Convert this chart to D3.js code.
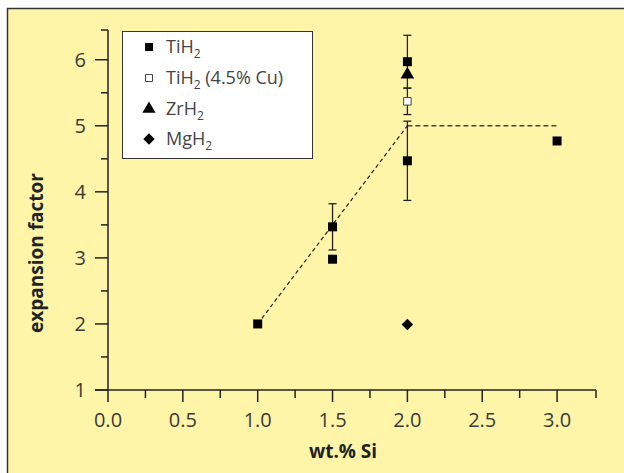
<!DOCTYPE html>
<html>
<head>
<meta charset="utf-8">
<script src="https://cdn.jsdelivr.net/npm/d3@7"></script>
<style>
  body { margin: 0; background: #fff; }
  svg { display: block; }
  text { font-family: "Open Sans", "Noto Sans", sans-serif; }
</style>
</head>
<body>
<svg id="chart"></svg>
<script>
// data
const tih2 = [
  {x: 1.0, y: 2.0},
  {x: 1.5, y: 3.47, err: 0.35},
  {x: 1.5, y: 2.98},
  {x: 2.0, y: 5.97, err: 0.4},
  {x: 2.0, y: 4.47, err: 0.6},
  {x: 3.0, y: 4.77}
]
const tih2Cu = [{x: 2.0, y: 5.37, err: 0.2}]
const zrh2 = [{x: 2.0, y: 5.79}]
const mgh2 = [{x: 2.0, y: 1.99}]
const trendLine = [{x: 1.0, y: 2.0}, {x: 2.0, y: 5.0}]
const plateauLine = [{x: 2.0, y: 5.0}, {x: 3.0, y: 5.0}]
const xTicks = [0, 0.5, 1, 1.5, 2, 2.5, 3]
const yTicks = [1, 2, 3, 4, 5, 6]
const legendNames = ['TiH', 'TiH', 'ZrH', 'MgH']
const legendExtra = ['', ' (4.5% Cu)', '', '']

const W = 624, H = 473
const svg = d3.select('#chart').attr('width', W).attr('height', H)

svg.append('rect').attr('x', 7).attr('y', 8).attr('width', W - 7).attr('height', H - 8)
  .attr('fill', '#fff5a8')
svg.append('path').attr('d', `M7.5,${H}V8.5H${W}`).attr('fill', 'none')
  .attr('stroke', '#333').attr('stroke-width', 1.5)

const x = d3.scaleLinear().domain([0, 3.26]).range([108, 596])
const y = d3.scaleLinear().domain([1, 6.45]).range([390, 30])
const ink = '#222'
const txt = '#3a3a3a'

// x axis
const gx = svg.append('g').attr('transform', 'translate(0,390)')
gx.append('line').attr('x1', 95).attr('x2', x(3.26)).attr('stroke', ink).attr('stroke-width', 1.5)
gx.append('line').attr('x1', x(3.26)).attr('x2', x(3.26)).attr('y2', 8).attr('stroke', ink).attr('stroke-width', 1.5)
gx.selectAll('.major').data(xTicks).enter().append('line')
  .attr('x1', d => x(d)).attr('x2', d => x(d)).attr('y2', 12)
  .attr('stroke', ink).attr('stroke-width', 1.5)
gx.selectAll('.minor').data(xTicks.slice(0, -1)).enter().append('line')
  .attr('x1', d => x(d + 0.25)).attr('x2', d => x(d + 0.25)).attr('y2', 8)
  .attr('stroke', ink).attr('stroke-width', 1.5)
gx.selectAll('text').data(xTicks).enter().append('text')
  .attr('x', d => x(d)).attr('y', 37).attr('text-anchor', 'middle')
  .attr('font-size', 20).attr('fill', txt)
  .text(d => d3.format('.1f')(d))

// y axis
const gy = svg.append('g').attr('transform', 'translate(108,0)')
gy.append('line').attr('y1', y(6.45)).attr('y2', 390).attr('stroke', ink).attr('stroke-width', 1.5)
gy.append('line').attr('y1', y(6.45)).attr('y2', y(6.45)).attr('x1', -7).attr('stroke', ink).attr('stroke-width', 1.5)
gy.selectAll('.major').data(yTicks).enter().append('line')
  .attr('y1', d => y(d)).attr('y2', d => y(d)).attr('x1', -13)
  .attr('stroke', ink).attr('stroke-width', 1.5)
gy.selectAll('.minor').data(yTicks.slice(0, -1)).enter().append('line')
  .attr('y1', d => y(d + 0.5)).attr('y2', d => y(d + 0.5)).attr('x1', -7)
  .attr('stroke', ink).attr('stroke-width', 1.5)
gy.selectAll('text').data(yTicks).enter().append('text')
  .attr('x', -22).attr('y', d => y(d) + 7).attr('text-anchor', 'end')
  .attr('font-size', 20).attr('fill', txt)
  .text(d => d)

// axis titles
svg.append('text').attr('x', 343).attr('y', 458).attr('text-anchor', 'middle')
  .attr('font-size', 19).attr('font-weight', 700).attr('fill', '#222').text('wt.% Si')
svg.append('text').attr('transform', 'translate(43,253) rotate(-90)').attr('text-anchor', 'middle')
  .attr('font-size', 19).attr('font-weight', 700).attr('fill', '#222').text('expansion factor')

// dashed guide lines
const line = d3.line().x(d => x(d.x)).y(d => y(d.y))
svg.append('path').attr('d', line(trendLine)).attr('fill', 'none')
  .attr('stroke', ink).attr('stroke-width', 1.2).attr('stroke-dasharray', '4,3')
svg.append('path').attr('d', line(plateauLine)).attr('fill', 'none')
  .attr('stroke', '#444').attr('stroke-width', 1.5).attr('stroke-dasharray', '5,3')

// error bars
const withErr = tih2.concat(tih2Cu).filter(d => d.err)
const eb = svg.append('g').attr('stroke', ink).attr('stroke-width', 1.3)
withErr.forEach(d => {
  eb.append('line').attr('x1', x(d.x)).attr('x2', x(d.x)).attr('y1', y(d.y + d.err)).attr('y2', y(d.y - d.err))
  ;[d.y + d.err, d.y - d.err].forEach(v => {
    eb.append('line').attr('x1', x(d.x) - 4).attr('x2', x(d.x) + 4).attr('y1', y(v)).attr('y2', y(v))
  })
})

// markers
const sq = d3.symbol(d3.symbolSquare, 81)
const tri = d3.symbol(d3.symbolTriangle, 80)
const dia = d3.symbol(d3.symbolSquare, 66)
svg.selectAll('.tih2').data(tih2).enter().append('path')
  .attr('d', sq).attr('transform', d => `translate(${x(d.x)},${y(d.y)})`).attr('fill', '#000')
svg.selectAll('.tih2cu').data(tih2Cu).enter().append('path')
  .attr('d', d3.symbol(d3.symbolSquare, 56)).attr('transform', d => `translate(${x(d.x)},${y(d.y)})`)
  .attr('fill', '#fff').attr('stroke', '#444').attr('stroke-width', 1)
svg.selectAll('.zrh2').data(zrh2).enter().append('path')
  .attr('d', tri).attr('transform', d => `translate(${x(d.x)},${y(d.y) + 1})`).attr('fill', '#000')
svg.selectAll('.mgh2').data(mgh2).enter().append('path')
  .attr('d', dia).attr('transform', d => `translate(${x(d.x)},${y(d.y)}) rotate(45)`).attr('fill', '#000')

// legend
const lg = svg.append('g')
lg.append('rect').attr('x', 122.5).attr('y', 31.5).attr('width', 190).attr('height', 127)
  .attr('fill', '#fff').attr('stroke', '#333').attr('stroke-width', 1)
const rowY = [47, 78, 109, 139]
const legendSym = [
  {d: d3.symbol(d3.symbolSquare, 64)(), fill: '#000', stroke: 'none', rot: 0},
  {d: d3.symbol(d3.symbolSquare, 49)(), fill: '#fff', stroke: '#444', rot: 0},
  {d: d3.symbol(d3.symbolTriangle, 75)(), fill: '#000', stroke: 'none', rot: 0},
  {d: d3.symbol(d3.symbolSquare, 64)(), fill: '#000', stroke: 'none', rot: 45}
]
legendNames.forEach((name, i) => {
  lg.append('path').attr('d', legendSym[i].d)
    .attr('transform', `translate(149,${rowY[i]}) rotate(${legendSym[i].rot})`)
    .attr('fill', legendSym[i].fill).attr('stroke', legendSym[i].stroke)
  const t = lg.append('text').attr('x', 166).attr('y', rowY[i] + 6)
    .attr('font-size', 18).attr('fill', '#444')
  t.append('tspan').text(name)
  t.append('tspan').attr('font-size', 12).attr('dy', 5).text('2')
  if (legendExtra[i]) t.append('tspan').attr('dy', -5).text(legendExtra[i])
})
</script>
</body>
</html>
